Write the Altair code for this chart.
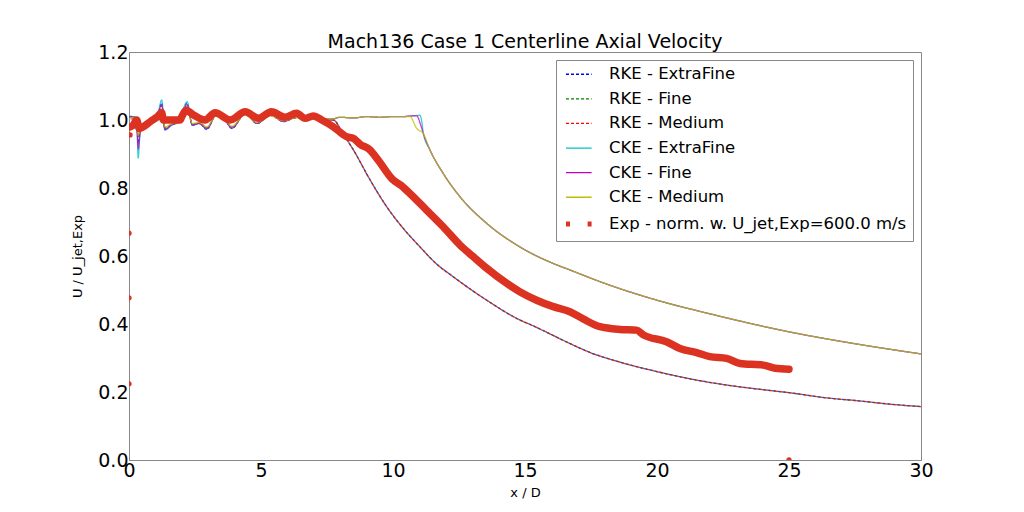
import altair as alt
import pandas as pd

# ---- data ----
near_x = [0.0, 0.15, 0.28, 0.35, 0.42, 0.55, 0.8, 1.05, 1.24, 1.36, 1.6, 1.9, 2.2, 2.4,
          2.65, 2.95, 3.3, 3.6, 3.9, 4.4, 4.85, 5.35, 5.85, 6.35, 6.7, 7.0, 7.4]

rke_ef_near = [1.01, 1.008, 1.006, 0.93, 0.965, 0.985, 0.995, 1.005, 1.05, 0.972, 0.985, 0.995, 1.05, 0.985,
               0.99, 0.972, 1.015, 1.005, 0.975, 1.02, 0.99, 1.015, 0.995, 1.008, 0.998, 1.006, 1.0]
rke_f_near = [1.01, 1.008, 1.004, 0.94, 0.968, 0.985, 0.995, 1.005, 1.042, 0.974, 0.985, 0.995, 1.042, 0.986,
              0.99, 0.974, 1.014, 1.004, 0.977, 1.019, 0.99, 1.014, 0.996, 1.007, 0.998, 1.005, 1.0]
rke_m_near = [1.0, 1.004, 1.002, 0.95, 0.972, 0.986, 0.996, 1.004, 1.032, 0.978, 0.987, 0.996, 1.035, 0.988,
              0.992, 0.978, 1.012, 1.004, 0.98, 1.017, 0.992, 1.013, 0.997, 1.006, 0.999, 1.004, 1.0]
cke_ef_near = [1.012, 1.01, 1.008, 0.888, 0.96, 0.984, 0.995, 1.006, 1.059, 0.97, 0.984, 0.996, 1.054, 0.984,
               0.99, 0.975, 1.016, 1.005, 0.977, 1.021, 0.99, 1.016, 0.996, 1.01, 0.999, 1.007, 1.002]
cke_f_near = [1.01, 1.009, 1.006, 0.915, 0.962, 0.985, 0.995, 1.006, 1.045, 0.972, 0.985, 0.996, 1.045, 0.985,
              0.99, 0.975, 1.015, 1.005, 0.976, 1.02, 0.99, 1.015, 0.996, 1.009, 0.999, 1.007, 1.003]
cke_m_near = [1.005, 1.006, 1.004, 0.955, 0.975, 0.988, 0.997, 1.005, 1.03, 0.98, 0.988, 0.997, 1.03, 0.99,
              0.993, 0.98, 1.012, 1.004, 0.982, 1.016, 0.993, 1.012, 0.998, 1.007, 1.0, 1.005, 1.003]

rke_tail_x = [7.74, 8.1, 8.5, 9.13, 9.76, 10.39, 11.02, 11.6, 12.28, 13.55, 14.8, 15.3, 16.5, 17.5,
              18.5, 20.0, 21.5, 22.5, 24.0, 25.0, 26.5, 27.5, 29.0, 30.0]
rke_tail_y = [1.0, 0.96, 0.912, 0.824, 0.745, 0.681, 0.627, 0.58, 0.539, 0.47, 0.412, 0.395, 0.35, 0.315,
              0.29, 0.26, 0.235, 0.222, 0.207, 0.198, 0.182, 0.175, 0.163, 0.157]

cke_plateau_x = [7.7, 8.0, 8.5, 9.0, 9.5, 10.0, 10.4]
cke_plateau_y = [1.003, 1.008, 1.006, 1.01, 1.008, 1.01, 1.01]
cke_ef_drop_x = [10.7, 11.02, 11.1]
cke_ef_drop_y = [1.012, 1.014, 0.99]
cke_f_drop_x = [10.7, 10.9, 11.05]
cke_f_drop_y = [1.012, 1.012, 0.985]
cke_m_drop_x = [10.64, 10.9]
cke_m_drop_y = [1.01, 0.975]
cke_tail_x = [11.15, 11.4, 11.9, 12.54, 13.55, 14.8, 16.07, 16.7, 18.0, 20.0, 22.0, 25.0, 27.5, 30.0]
cke_tail_y = [0.96, 0.912, 0.843, 0.774, 0.696, 0.627, 0.578, 0.559, 0.52, 0.47, 0.43, 0.377, 0.342, 0.312]

exp_x = [0.04, 0.16, 0.29, 0.39, 0.54, 0.8, 1.05, 1.24, 1.3, 1.43, 1.93, 2.0, 2.16, 2.44, 2.88, 3.26,
         3.83, 4.4, 4.9, 5.4, 5.9, 6.35, 6.67, 6.98, 7.3, 7.74, 8.24, 8.5, 8.75, 9.13, 9.44, 10.0,
         10.3, 10.64, 11.27, 11.9, 12.54, 13.04, 13.55, 14.3, 14.8, 15.44, 16.07, 16.7, 17.2, 17.84,
         18.6, 19.23, 19.48, 20.36, 20.87, 21.5, 22.0, 22.64, 23.14, 24.03, 24.47, 25.0]
exp_y = [0.98, 0.985, 1.0, 0.975, 0.98, 0.995, 1.008, 1.021, 1.0, 1.0, 1.0, 1.01, 1.029, 1.015, 1.0, 1.021,
         1.0, 1.024, 1.005, 1.024, 1.008, 1.02, 1.005, 1.012, 1.0, 0.98, 0.951, 0.946, 0.929, 0.912, 0.882, 0.824,
         0.808, 0.784, 0.735, 0.686, 0.632, 0.598, 0.564, 0.52, 0.495, 0.47, 0.451, 0.436, 0.415, 0.392,
         0.384, 0.382, 0.368, 0.348, 0.328, 0.316, 0.304, 0.299, 0.284, 0.279, 0.27, 0.267]
exp_pts_x = [0.0, 0.0, 0.0, 0.04, 25.0]
exp_pts_y = [0.224, 0.477, 0.667, 0.956, 0.0]

x_ticks = [0, 5, 10, 15, 20, 25, 30]
y_ticks = [0.0, 0.2, 0.4, 0.6, 0.8, 1.0, 1.2]

EXP = "Exp - norm. w. U_jet,Exp=600.0 m/s"
series_names = ["RKE - ExtraFine", "RKE - Fine", "RKE - Medium",
                "CKE - ExtraFine", "CKE - Fine", "CKE - Medium", EXP]
series_colors = ["#0000ff", "#008000", "#ff0000", "#00bfbf", "#bf00bf", "#bfbf00", "#dc3222"]
series_dashes = [[3, 2], [3, 2], [3, 2], [1, 0], [1, 0], [1, 0], [4, 17.6]]
legend_widths = [1.3, 1.3, 1.3, 1.3, 1.3, 1.3, 5]

FONT = "DejaVu Sans"

color_scale = alt.Scale(domain=series_names, range=series_colors)
dash_scale = alt.Scale(type="ordinal", domain=series_names, range=series_dashes)
width_scale = alt.Scale(type="ordinal", domain=series_names, range=legend_widths)
x_scale = alt.Scale(domain=[0, 30], nice=False)
y_scale = alt.Scale(domain=[0, 1.2], nice=False)

legend = alt.Legend(
    title=None, orient="top-right", offset=8,
    strokeColor="#888888", fillColor="white", padding=6, cornerRadius=0,
    labelFont=FONT, labelFontSize=16.5, labelColor="black", labelOffset=20.7, labelLimit=500,
    symbolType="M-1.83,0H1.83", symbolSize=196, symbolOffset=7.3, rowPadding=7.6,
    symbolOpacity=1,
)


def series_frame(name, xs, ys):
    return pd.DataFrame({"x": xs, "y": ys, "series": name})


def sim_layer(df, dash_offset=0):
    return alt.Chart(df).mark_line(
        opacity=0.75, clip=True, interpolate="monotone", strokeDashOffset=dash_offset,
    ).encode(
        x=alt.X("x:Q", scale=x_scale),
        y=alt.Y("y:Q", scale=y_scale),
        color=alt.Color("series:N", scale=color_scale, legend=legend),
        strokeWidth=alt.StrokeWidth("series:N", scale=width_scale, legend=legend),
        strokeDash=alt.StrokeDash("series:N", scale=dash_scale, legend=legend),
        order="x:Q",
    )


rke_ef = series_frame("RKE - ExtraFine", near_x + rke_tail_x, rke_ef_near + rke_tail_y)
rke_f = series_frame("RKE - Fine", near_x + rke_tail_x, rke_f_near + rke_tail_y)
rke_m = series_frame("RKE - Medium", near_x + rke_tail_x, rke_m_near + rke_tail_y)
cke_ef = series_frame("CKE - ExtraFine", near_x + cke_plateau_x + cke_ef_drop_x + cke_tail_x,
                      cke_ef_near + cke_plateau_y + cke_ef_drop_y + cke_tail_y)
cke_f = series_frame("CKE - Fine", near_x + cke_plateau_x + cke_f_drop_x + cke_tail_x,
                     cke_f_near + cke_plateau_y + cke_f_drop_y + cke_tail_y)
cke_m = series_frame("CKE - Medium", near_x + cke_plateau_x + cke_m_drop_x + cke_tail_x,
                     cke_m_near + cke_plateau_y + cke_m_drop_y + cke_tail_y)
exp_line = series_frame(EXP, exp_x, exp_y)
exp_pts = series_frame(EXP, exp_pts_x, exp_pts_y)

layers = [
    sim_layer(rke_ef, dash_offset=0),
    sim_layer(rke_f, dash_offset=1.7),
    sim_layer(rke_m, dash_offset=3.3),
    sim_layer(cke_ef),
    sim_layer(cke_f),
    sim_layer(cke_m),
    alt.Chart(exp_line).mark_line(
        strokeWidth=7.5, strokeCap="round", strokeJoin="round", clip=True, interpolate="monotone",
    ).encode(
        x=alt.X("x:Q", scale=x_scale), y=alt.Y("y:Q", scale=y_scale),
        color=alt.Color("series:N", scale=color_scale, legend=None), order="x:Q"),
    alt.Chart(exp_pts).mark_circle(size=28, opacity=1, clip=True).encode(
        x=alt.X("x:Q", scale=x_scale), y=alt.Y("y:Q", scale=y_scale),
        color=alt.Color("series:N", scale=color_scale, legend=None)),
]

# inward ticks on all four sides, like the original figure
tick_x = pd.DataFrame({"x": x_ticks})
tick_y = pd.DataFrame({"y": y_ticks})
tick_col = "#444444"
layers += [
    alt.Chart(tick_x).mark_rule(color=tick_col, strokeWidth=1).encode(
        x=alt.X("x:Q", scale=x_scale), y=alt.datum(0, scale=y_scale), y2=alt.datum(0.012)),
    alt.Chart(tick_x).mark_rule(color=tick_col, strokeWidth=1).encode(
        x=alt.X("x:Q", scale=x_scale), y=alt.datum(1.2, scale=y_scale), y2=alt.datum(1.188)),
    alt.Chart(tick_y).mark_rule(color=tick_col, strokeWidth=1).encode(
        y=alt.Y("y:Q", scale=y_scale), x=alt.datum(0, scale=x_scale), x2=alt.datum(0.15)),
    alt.Chart(tick_y).mark_rule(color=tick_col, strokeWidth=1).encode(
        y=alt.Y("y:Q", scale=y_scale), x=alt.datum(30, scale=x_scale), x2=alt.datum(29.85)),
]

chart = alt.layer(*layers).encode(
    x=alt.X("x:Q", scale=x_scale, title="x / D",
            axis=alt.Axis(values=x_ticks, format="d", titlePadding=6, labelFlush=False)),
    y=alt.Y("y:Q", scale=y_scale, title="U / U_jet,Exp",
            axis=alt.Axis(values=y_ticks, format=".1f", titlePadding=13, labelFlush=False)),
).properties(
    width=792, height=408,
    title=alt.TitleParams("Mach136 Case 1 Centerline Axial Velocity", font=FONT, fontSize=19,
                          fontWeight="normal", color="black", offset=4, dy=13),
    autosize="none",
    padding={"left": 121, "top": 44, "right": 95, "bottom": 44},
).configure_axis(
    grid=False, ticks=False, labelPadding=1, domainColor="#888888",
    labelFont=FONT, labelFontSize=19, labelColor="black",
    titleFont=FONT, titleFontSize=13, titleFontWeight="normal", titleColor="black",
).configure_view(
    stroke="#888888", strokeWidth=1,
)

chart.save("out.html", embed_options={"renderer": "svg", "actions": False})
